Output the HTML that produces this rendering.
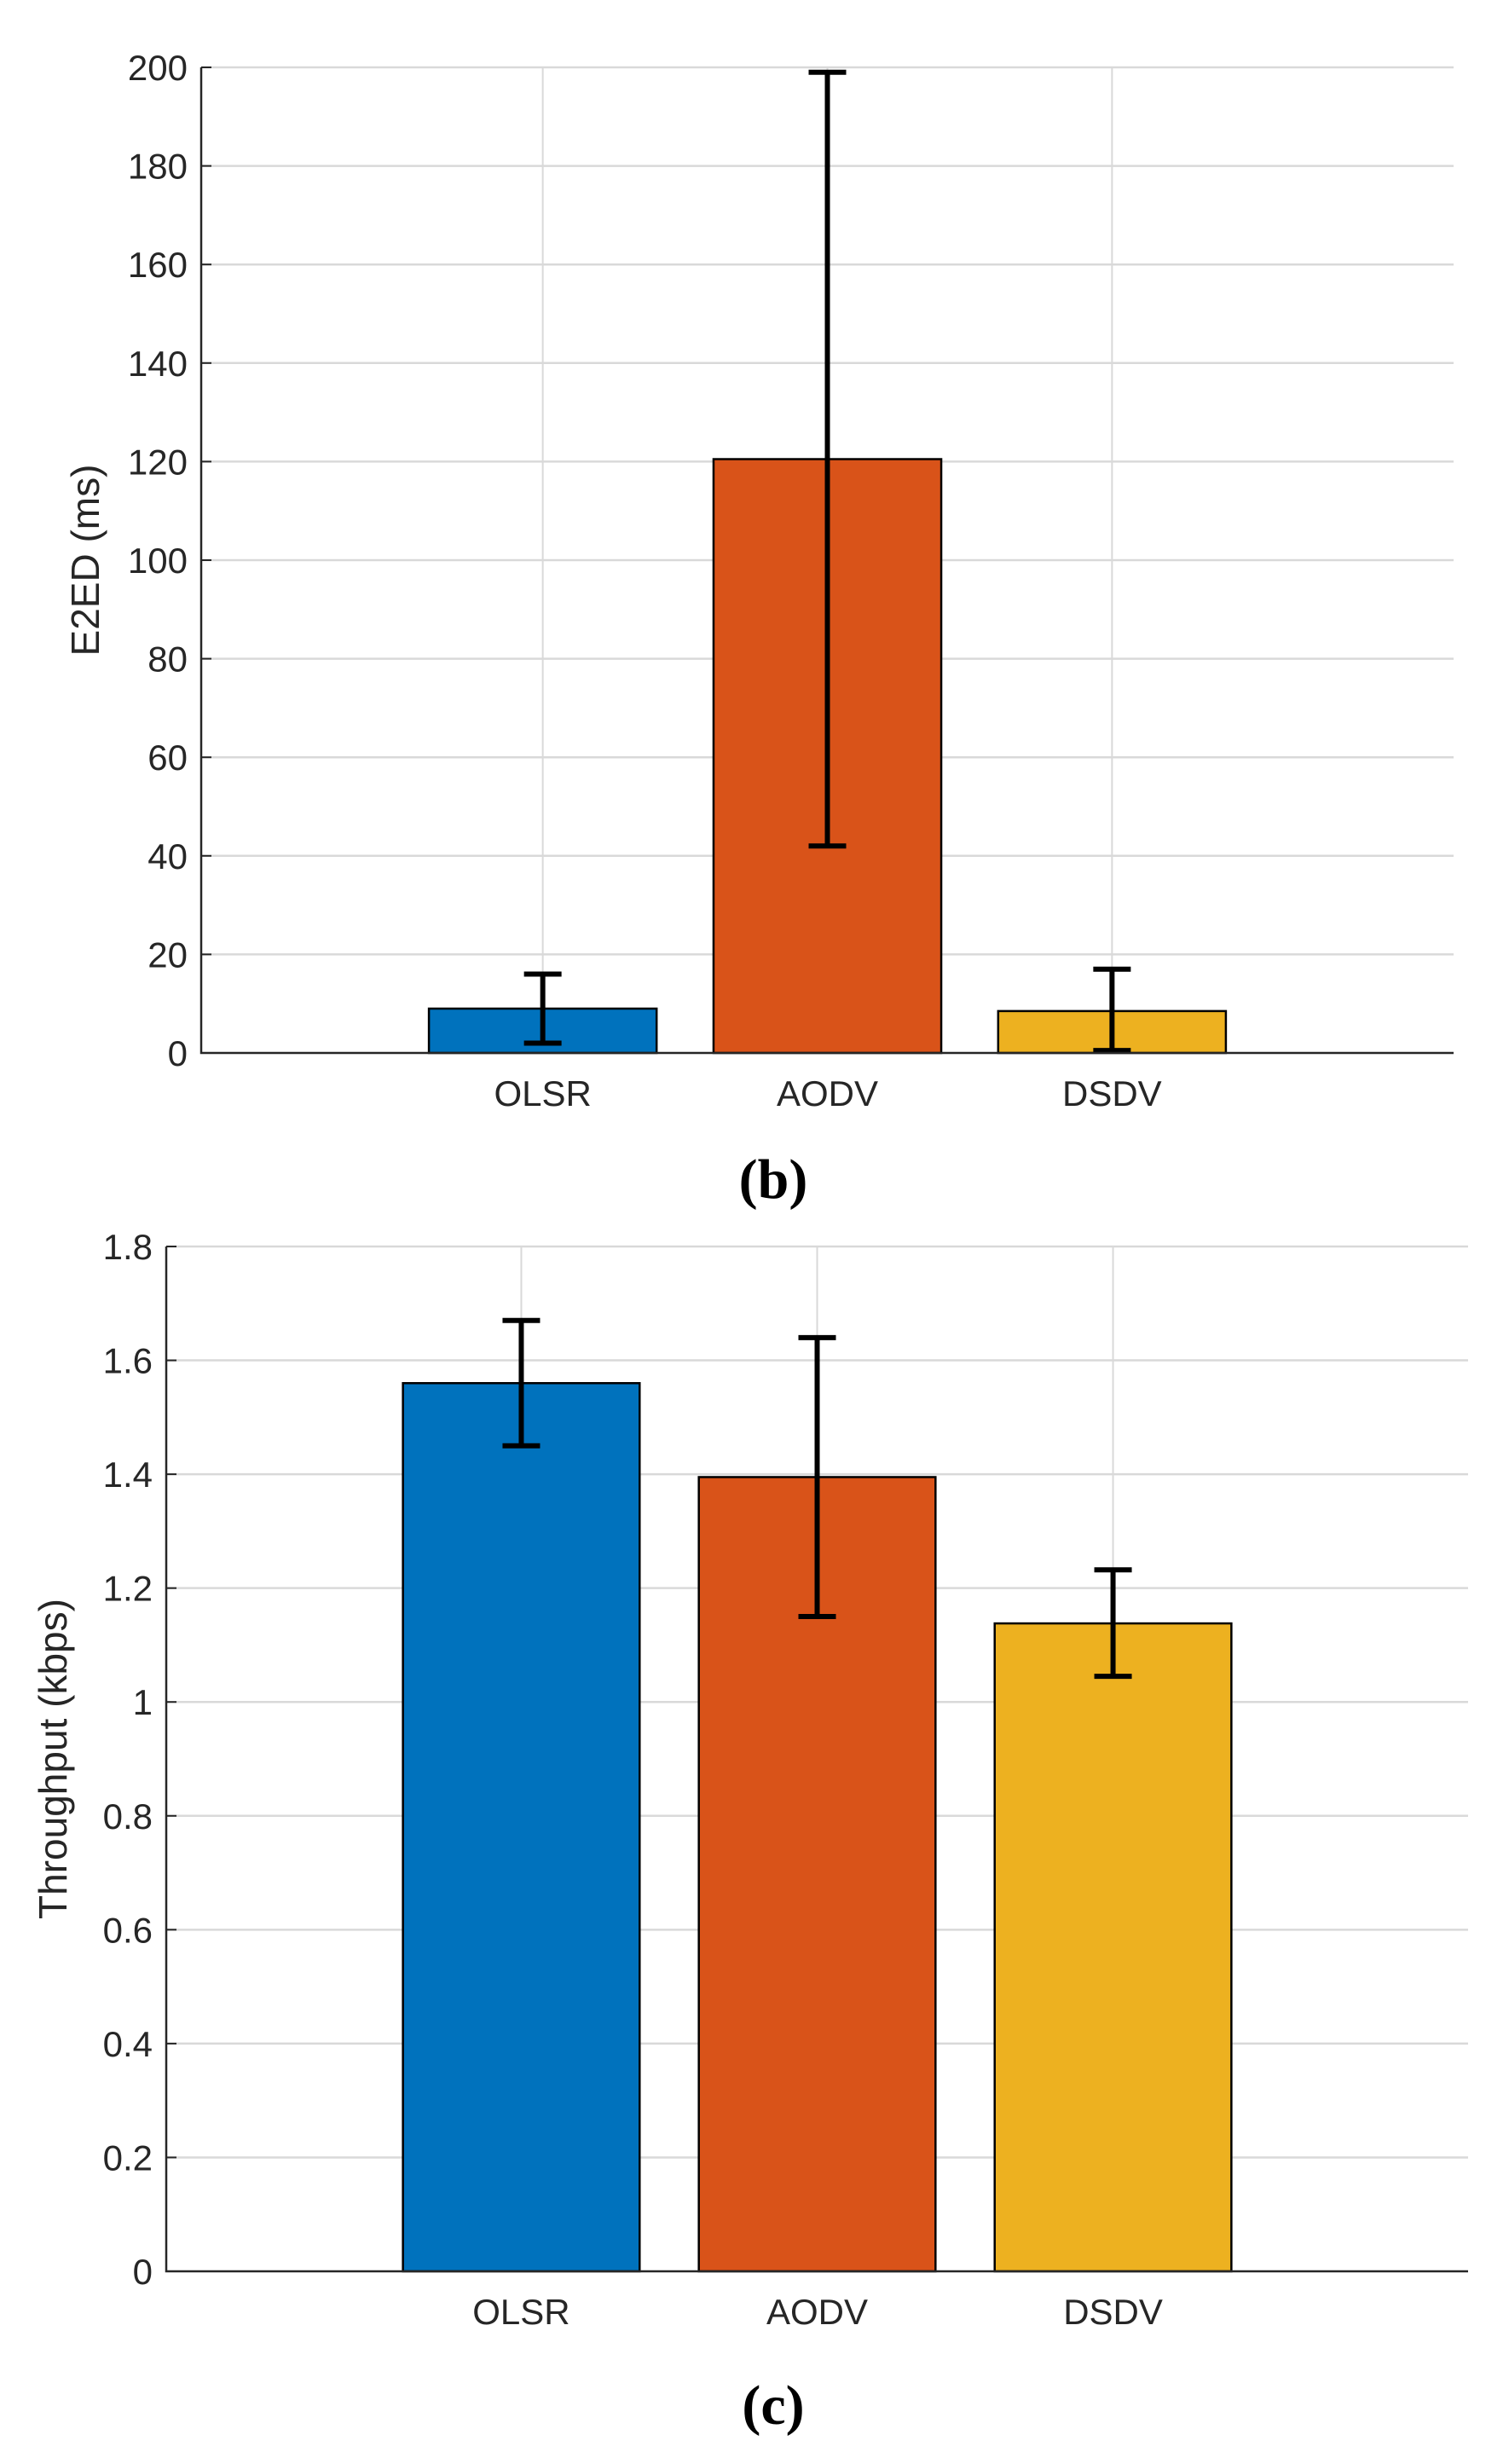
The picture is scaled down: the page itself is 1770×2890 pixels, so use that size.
<!DOCTYPE html>
<html><head><meta charset="utf-8"><style>
body{margin:0;background:#fff;}
svg text{font-family:"Liberation Sans",Arial,sans-serif;fill:#262626;}
</style></head><body>
<svg id="fig" width="1770" height="2885" xmlns="http://www.w3.org/2000/svg"></svg>
<script>
const categories = ["OLSR","AODV","DSDV"];
const colors = ["#0072BD","#D95319","#EDB120"];
const e2edValues = [9, 120.5, 8.5];
const e2edLow = [2, 42, 0.5];
const e2edHigh = [16, 199, 17];
const e2edTicks = [0,20,40,60,80,100,120,140,160,180,200];
const thrValues = [1.56, 1.395, 1.138];
const thrLow = [1.45, 1.15, 1.045];
const thrHigh = [1.67, 1.64, 1.232];
const thrTicks = [0,0.2,0.4,0.6,0.8,1,1.2,1.4,1.6,1.8];

const NS="http://www.w3.org/2000/svg";
const svg=document.getElementById('fig');
function mk(tag,attrs,parent){const e=document.createElementNS(NS,tag);for(const k in attrs)e.setAttribute(k,attrs[k]);(parent||svg).appendChild(e);return e;}

function drawChart(o){
  const g=mk('g',{});
  
  
  const xs=v=>o.L+(v-(-0.2))/4.4*(o.R-o.L);
  const ys=v=>o.B-(v-o.ymin)/(o.ymax-o.ymin)*(o.B-o.T);
  o.ticks.forEach(t=>{
    const y=ys(t);
    if(t!==o.ymin){const gl=mk('line',{x1:o.L,x2:o.R,y1:y,y2:y,stroke:'#d9d9d9','stroke-width':2.5},g);
    }
    const tk=mk('line',{x1:o.L,x2:o.L+12,y1:y,y2:y,stroke:'#262626','stroke-width':2},g);
    
    const tx=mk('text',{x:o.L-16,y:y+15,'text-anchor':'end','font-size':42},g);
    tx.textContent=String(t);
    
  });
  categories.forEach((c,i)=>{
    const x=xs(i+1);
    const vg=mk('line',{x1:x,x2:x,y1:o.T,y2:o.B,stroke:'#d9d9d9','stroke-width':2},g);
    
  });
  categories.forEach((c,i)=>{
    const x=xs(i+1),w=xs(1.4)-xs(0.6);
    const b=mk('rect',{x:x-w/2,y:ys(o.vals[i]),width:w,height:ys(o.ymin)-ys(o.vals[i]),fill:colors[i],stroke:'#000','stroke-width':2.5},g);
    
    const eg=mk('g',{stroke:'#000','stroke-width':6},g);
    
    mk('line',{x1:x,x2:x,y1:ys(o.lo[i]),y2:ys(o.hi[i])},eg);
    mk('line',{x1:x-22,x2:x+22,y1:ys(o.lo[i]),y2:ys(o.lo[i])},eg);
    mk('line',{x1:x-22,x2:x+22,y1:ys(o.hi[i]),y2:ys(o.hi[i])},eg);
    const lb=mk('text',{x:x,y:o.B+62,'text-anchor':'middle','font-size':42},g);
    lb.textContent=c;
    
  });
  const ax=mk('path',{d:`M${o.L} ${o.T} V${o.B} H${o.R}`,fill:'none',stroke:'#262626','stroke-width':2.5},g);
  
  const yl=mk('text',{x:o.ylx,y:(o.T+o.B)/2,'text-anchor':'middle','font-size':46,transform:`rotate(-90 ${o.ylx} ${(o.T+o.B)/2})`},g);
  yl.textContent=o.ylabel;
  
  const cap=mk('text',{x:o.capx,y:o.capy,'text-anchor':'middle','font-size':66,'font-weight':'bold',style:'font-family:"Liberation Serif",serif;fill:#000'},g);
  cap.textContent=o.caption;
  
}
drawChart({name:'e2ed-chart',L:236,R:1705,T:79,B:1235,ymin:0,ymax:200,ticks:e2edTicks,vals:e2edValues,lo:e2edLow,hi:e2edHigh,ylabel:'E2ED (ms)',ylx:116,capx:907,capy:1405,caption:'(b)'});
drawChart({name:'throughput-chart',L:195,R:1722,T:1462,B:2664,ymin:0,ymax:1.8,ticks:thrTicks,vals:thrValues,lo:thrLow,hi:thrHigh,ylabel:'Throughput (kbps)',ylx:78,capx:907,capy:2843,caption:'(c)'});
</script>
</body></html>
